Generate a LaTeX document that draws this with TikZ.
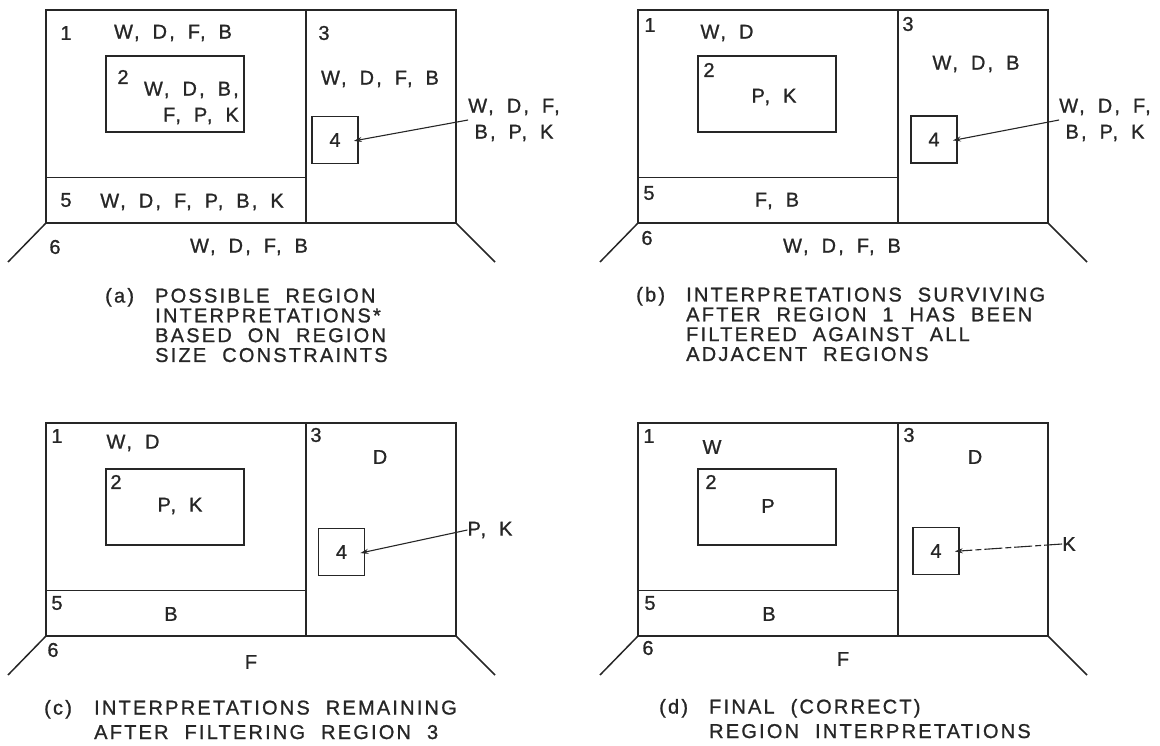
\documentclass[tikz,border=0pt]{standalone}
\usepackage{fontspec}
\usepackage{tikz}
\usetikzlibrary{arrows.meta}
\newfontfamily\rlfont[LetterSpace=11,FakeBold=1]{Liberation Sans}
\newcommand{\lblfont}{\rlfont\fontsize{20}{26}\selectfont\spaceskip=13pt\relax}
\newcommand{\captfont}{\rlfont\fontsize{20}{19.5}\selectfont\spaceskip=16pt\relax}
\newcommand{\captfontw}{\rlfont\fontsize{20}{24.5}\selectfont\spaceskip=16pt\relax}
\newcommand{\roomframe}{%
  \draw[wall] (46,10) rectangle (456,223);
  \draw[wall] (306,10) -- (306,223);
  \draw[wall] (46,177.5) -- (306,177.5);
  \draw[wall] (106,56) rectangle (244,132);
  \draw[wall] (46,223) -- (8,262);
  \draw[wall] (456,223) -- (495,262);}

\begin{document}
\begin{tikzpicture}[x=1pt,y=-1pt,
  wall/.style={line width=1.5pt, draw=black!85},
  num/.style={font=\lblfont, text=black!85, inner sep=0pt},
  lst/.style={num, align=center},
  sq/.style={num, draw=black!85, line width=1.5pt, minimum width=46pt, minimum height=47pt},
  arr/.style={-{Stealth[length=8pt,width=5pt]}, line width=1.1pt, draw=black!85, shorten >=-5pt},
  captxt/.style={font=\captfont, text=black!85, inner sep=0pt, anchor=base west},
  captxtw/.style={captxt, font=\captfontw}]
\useasboundingbox (0,0) rectangle (1160,746);
% (a) size constraints
\begin{scope}
\roomframe
\node[num] (A1) at (66,33) {1};  \node[lst] (AL1) at (173,33) {W, D, F, B};
\node[num] (A2) at (123,77) {2}; \node[lst, align=right, anchor=east] (AL2) at (239,103) {W, D, B,\\F, P, K};
\node[num] (A3) at (324,33) {3}; \node[lst] (AL3) at (380,79) {W, D, F, B};
\node[sq] (A4) at (335,140) {4}; \node[lst] (AL4) at (514,120) {W, D, F,\\B, P, K};
\node[num] (A5) at (66,200) {5}; \node[lst] (AL5) at (192,202) {W, D, F, P, B, K};
\node[num] (A6) at (55,247) {6}; \node[lst] (AL6) at (249,247) {W, D, F, B};
\draw[arr] (AL4.west) -- (A4.east);
\node[captxt] (AC) at (105,302.5) {\begin{tabular}[t]{@{}p{50pt}@{}l@{}}(a) & POSSIBLE REGION\\
  & INTERPRETATIONS*\\ & BASED ON REGION\\ & SIZE CONSTRAINTS\end{tabular}};
\end{scope}
% (b) region 1 filtered
\begin{scope}[shift={(592,0)}]
\roomframe
\node[num] (B1) at (58,25) {1};  \node[lst] (BL1) at (135,33) {W, D};
\node[num] (B2) at (117,70) {2}; \node[lst] (BL2) at (182,97) {P, K};
\node[num] (B3) at (316,24) {3}; \node[lst] (BL3) at (384,64) {W, D, B};
\node[sq] (B4) at (342,139.5) {4}; \node[lst] (BL4) at (513,120) {W, D, F,\\B, P, K};
\node[num] (B5) at (57,193) {5}; \node[lst] (BL5) at (185,201) {F, B};
\node[num] (B6) at (55,238) {6}; \node[lst] (BL6) at (250,247) {W, D, F, B};
\draw[arr] (BL4.west) -- (B4.east);
\node[captxt] (BC) at (44,301.5) {\begin{tabular}[t]{@{}p{50pt}@{}l@{}}(b) & INTERPRETATIONS SURVIVING\\
  & AFTER REGION 1 HAS BEEN\\ & FILTERED AGAINST ALL\\ & ADJACENT REGIONS\end{tabular}};
\end{scope}
% (c) region 3 filtered
\begin{scope}[shift={(0,413)}]
\roomframe
\node[num] (C1) at (57,23) {1};  \node[lst] (CL1) at (133,30) {W, D};
\node[num] (C2) at (116,69) {2}; \node[lst] (CL2) at (180,93) {P, K};
\node[num] (C3) at (316,22) {3}; \node[lst] (CL3) at (380,44) {D};
\node[sq] (C4) at (341.5,139) {4}; \node[lst] (CL4) at (490,117) {P, K};
\node[num] (C5) at (57,190) {5}; \node[lst] (CL5) at (171,201) {B};
\node[num] (C6) at (53,237) {6}; \node[lst] (CL6) at (251,249) {F};
\draw[arr] (CL4.west) -- (C4.east);
\node[captxtw] (CC) at (44,301.5) {\begin{tabular}[t]{@{}p{50pt}@{}l@{}}(c) & INTERPRETATIONS REMAINING\\
  & AFTER FILTERING REGION 3\end{tabular}};
\end{scope}
% (d) final
\begin{scope}[shift={(592,413)}]
\roomframe
\node[num] (D1) at (57,23) {1};  \node[lst] (DL1) at (120,34) {W};
\node[num] (D2) at (119,69) {2}; \node[lst] (DL2) at (176,93) {P};
\node[num] (D3) at (317,22) {3}; \node[lst] (DL3) at (383,44) {D};
\node[sq] (D4) at (344,138) {4}; \node[lst] (DL4) at (477,131) {K};
\node[num] (D5) at (58,190) {5}; \node[lst] (DL5) at (177,201) {B};
\node[num] (D6) at (56,235) {6}; \node[lst] (DL6) at (251,246) {F};
\draw[arr, dash pattern=on 18pt off 3pt on 6pt off 3pt] (DL4.west) -- (D4.east);
\node[captxtw] (DC) at (67,300.5) {\begin{tabular}[t]{@{}p{50pt}@{}l@{}}(d) & FINAL (CORRECT)\\
  & REGION INTERPRETATIONS\end{tabular}};
\end{scope}
\end{tikzpicture}
\end{document}
